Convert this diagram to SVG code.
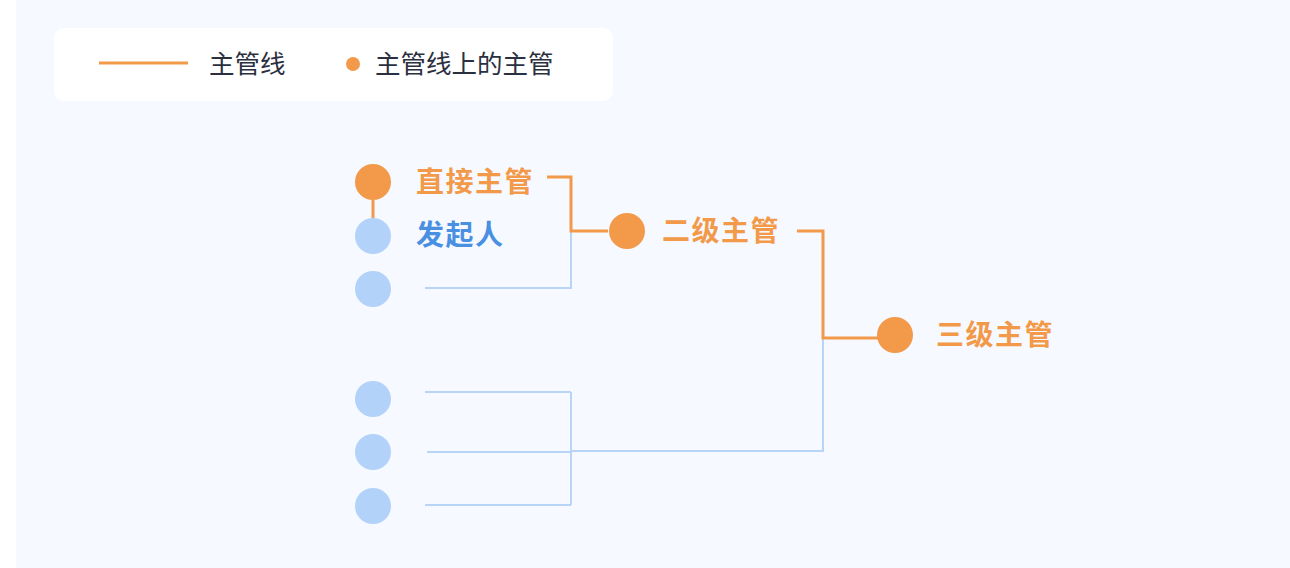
<svg xmlns="http://www.w3.org/2000/svg" width="1290" height="568" viewBox="0 0 1290 568">
<style>
.txt{font-family:"Noto Sans CJK SC","Noto Sans",sans-serif}
.legend{font-size:25.5px;fill:#2b3040}
.lbl{font-size:28px;font-weight:bold;letter-spacing:1.5px}
.or{fill:#f2994a}
.bl{fill:#4a90e2}
.dotB{fill:#b3d2fa}
.lineO{stroke:#f2994a;stroke-width:3;fill:none}
.lineB{stroke:#b8d5f7;stroke-width:2;fill:none}
</style>
<rect x="0" y="0" width="1290" height="568" fill="#ffffff"/>
<rect x="16" y="0" width="1274" height="568" fill="#f6f9ff"/>
<g id="legend">
<rect x="54" y="28" width="559" height="73" rx="10" fill="#ffffff"/>
<line x1="99" y1="63" x2="188" y2="63" class="lineO"/>
<text x="209" y="73" class="txt legend">主管线</text>
<circle cx="353" cy="64" r="7" class="or"/>
<text x="375" y="73" class="txt legend">主管线上的主管</text>
</g>
<g id="connectors">
<path d="M373 200 V218" class="lineO"/>
<path d="M425 288 H571 V231" class="lineB"/>
<path d="M425 392 H571 M427 452 H571 M425 505 H571 M571 392 V505 M571 451 H823 V338" class="lineB"/>
<path d="M547 177 H571 V231 H608" class="lineO"/>
<path d="M797 231 H823 V338 H878" class="lineO"/>
</g>
<g id="n-direct">
<circle cx="373" cy="182" r="18" class="or"/>
<text x="416" y="192" class="txt lbl or">直接主管</text>
</g>
<g id="n-initiator">
<circle cx="373" cy="236" r="18" class="dotB"/>
<text x="416" y="245" class="txt lbl bl">发起人</text>
</g>
<g id="n-3"><circle cx="373" cy="289" r="18" class="dotB"/></g>
<g id="n-4"><circle cx="373" cy="399" r="18" class="dotB"/></g>
<g id="n-5"><circle cx="373" cy="452" r="18" class="dotB"/></g>
<g id="n-6"><circle cx="373" cy="506" r="18" class="dotB"/></g>
<g id="n-second">
<circle cx="627" cy="231" r="18" class="or"/>
<text x="662" y="241" class="txt lbl or">二级主管</text>
</g>
<g id="n-third">
<circle cx="895" cy="335" r="18" class="or"/>
<text x="936" y="345" class="txt lbl or">三级主管</text>
</g>
</svg>
